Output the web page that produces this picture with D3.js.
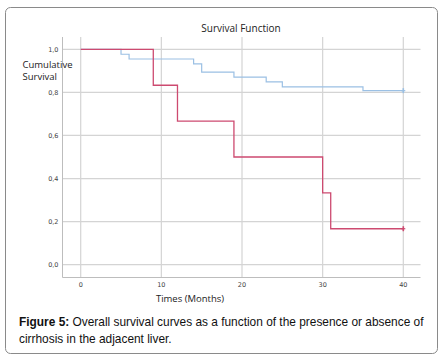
<!DOCTYPE html>
<html><head><meta charset="utf-8">
<script src="https://cdn.jsdelivr.net/npm/d3@7"></script>
<style>body{margin:0;background:#fff}svg{display:block}</style>
</head><body>
<script>
// Data (step points: time, survival)
const cirrhosisTimes = [0, 9, 12, 19, 30, 31, 40];
const cirrhosisSurv  = [1.0, 0.833, 0.667, 0.5, 0.333, 0.167, 0.167];
const noCirrhosisTimes = [0, 5, 6, 14, 15, 19, 23, 25, 35, 40];
const noCirrhosisSurv  = [1.0, 0.977, 0.955, 0.932, 0.894, 0.871, 0.849, 0.826, 0.808, 0.808];
const xTicks = [0, 10, 20, 30, 40];
const yTicks = [0, 0.2, 0.4, 0.6, 0.8, 1.0];
const title = "Survival Function";
const xLabel = "Times (Months)";
const yLabel = ["Cumulative", "Survival"];

const W = 442, H = 359;
const svg = d3.select("body").append("svg").attr("width", W).attr("height", H);

svg.append("rect").attr("x", 5.5).attr("y", 7.5).attr("width", 432).attr("height", 346)
  .attr("rx", 5).attr("fill", "#fff").attr("stroke", "#8a8a8a").attr("stroke-width", 1);

const plotL = 62.5, plotR = 420.5, plotT = 37, plotB = 277.5;
const x = d3.scaleLinear().domain([0, 40]).range([80.7, 403.3]);
const y = d3.scaleLinear().domain([0, 1]).range([264.7, 49.3]);

// grid
const g = svg.append("g");
g.selectAll(".vg").data(xTicks).enter().append("line")
  .attr("x1", d => x(d)).attr("x2", d => x(d)).attr("y1", plotT).attr("y2", plotB)
  .attr("stroke", "#d4d4d4").attr("stroke-width", 1.2);
g.selectAll(".hg").data(yTicks).enter().append("line")
  .attr("x1", plotL).attr("x2", plotR).attr("y1", d => y(d)).attr("y2", d => y(d))
  .attr("stroke", "#d4d4d4").attr("stroke-width", 1.2);

// axes lines
svg.append("line").attr("x1", plotL).attr("x2", plotL).attr("y1", plotT).attr("y2", plotB)
  .attr("stroke", "#bdbdbd");
svg.append("line").attr("x1", plotL).attr("x2", plotR).attr("y1", plotB).attr("y2", plotB)
  .attr("stroke", "#bdbdbd");

// tick labels
const fmt = d => d3.format(".1f")(d).replace(".", ",");
svg.selectAll(".yt").data(yTicks).enter().append("text")
  .attr("x", 58.5).attr("y", d => y(d)).attr("dy", "0.35em").attr("text-anchor", "end")
  .attr("font-family", "DejaVu Sans").attr("font-size", 6.5).attr("fill", "#444").text(fmt);
svg.selectAll(".xt").data(xTicks).enter().append("text")
  .attr("x", d => x(d)).attr("y", 284.5).attr("dy", "0.35em").attr("text-anchor", "middle")
  .attr("font-family", "DejaVu Sans").attr("font-size", 6.5).attr("fill", "#444").text(d => d);

// titles
svg.append("text").attr("x", 241).attr("y", 28).attr("dy", "0.35em").attr("text-anchor", "middle")
  .attr("font-family", "Open Sans").attr("font-size", 10).attr("fill", "#222").text(title);
svg.append("text").attr("x", 190).attr("y", 298.5).attr("dy", "0.35em").attr("text-anchor", "middle")
  .attr("font-family", "Open Sans").attr("font-size", 9.5).attr("fill", "#222").text(xLabel);
svg.selectAll(".yl").data(yLabel).enter().append("text")
  .attr("x", 22.5).attr("y", (d, i) => 64.5 + i * 11.7).attr("dy", "0.35em")
  .attr("font-family", "Open Sans").attr("font-size", 9.5).attr("fill", "#222").text(d => d);

// curves
const line = d3.line().x(d => x(d[0])).y(d => y(d[1])).curve(d3.curveStepAfter);
function draw(times, surv, color, w) {
  const pts = times.map((t, i) => [t, surv[i]]);
  svg.append("path").attr("d", line(pts)).attr("fill", "none").attr("stroke", color).attr("stroke-width", w);
  const last = pts[pts.length - 1];
  svg.append("line").attr("x1", x(last[0])).attr("x2", x(last[0]))
    .attr("y1", y(last[1]) - 2.5).attr("y2", y(last[1]) + 2.5).attr("stroke", color).attr("stroke-width", 1.6);
  svg.append("line").attr("x1", x(last[0]) - 2).attr("x2", x(last[0]) + 2)
    .attr("y1", y(last[1])).attr("y2", y(last[1])).attr("stroke", color).attr("stroke-width", 1.2);
}
draw(noCirrhosisTimes, noCirrhosisSurv, "#9bc0e4", 1.2);
draw(cirrhosisTimes, cirrhosisSurv, "#cd4a70", 1.3);

// caption
const cap = svg.append("g").attr("font-family", "Liberation Sans, Arial").attr("font-size", 11.9).attr("fill", "#111");
const t1 = cap.append("text").attr("x", 19).attr("y", 326);
t1.append("tspan").attr("font-weight", "bold").text("Figure 5:");
t1.append("tspan").text(" Overall survival curves as a function of the presence or absence of");
cap.append("text").attr("x", 19).attr("y", 343).text("cirrhosis in the adjacent liver.");
</script>
</body></html>
